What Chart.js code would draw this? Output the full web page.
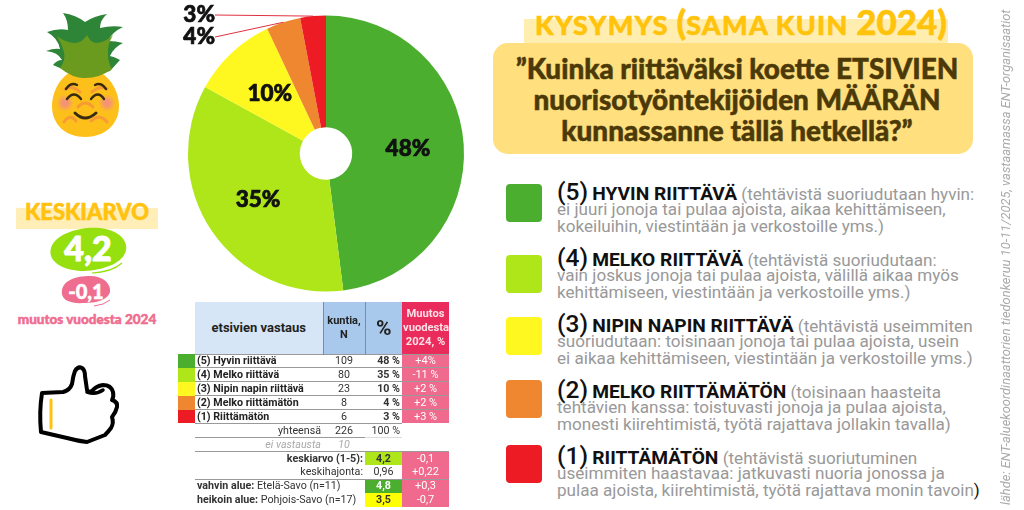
<!DOCTYPE html>
<html lang="fi">
<head>
<meta charset="UTF-8">
<title>Etsivien määrän riittävyys</title>
<style>
  *, *::before, *::after { box-sizing: border-box; margin: 0; padding: 0; }
  html, body { width: 1024px; height: 510px; overflow: hidden; background: #fff; font-family: Roboto, sans-serif; }
  .abs { position: absolute; }
  #pieWrap { position: absolute; left: 170px; top: 0; width: 312px; height: 307px; }
  canvas { display: block; }
  .disp { font-family: Lato, sans-serif; font-weight: 900; -webkit-text-stroke: .5px currentColor; }
  #kband { left: 16px; top: 208px; width: 142px; height: 21px; background: #ffeeb8; }
  #ktitle { left: 0; width: 174px; top: 198px; text-align: center; font-size: 22px; color: #ffc20e; }
  #kval { left: 50px; width: 76px; top: 226px; text-align: center; font-size: 34px; line-height: 44px; color: #fff; -webkit-text-stroke: 1px #fff; }
  #kdiff { left: 61px; width: 50px; top: 277px; text-align: center; font-size: 20px; line-height: 28px; color: #fff; }
  #kcap { left: 0; width: 174px; top: 311px; text-align: center; font-size: 13.5px; color: #ef6d8f; }
  #qband { left: 524px; top: 19px; width: 424px; height: 26px; background: #ffeeb0; }
  #qtitle { left: 499px; width: 484px; top: 0; text-align: center; font-size: 27px; line-height: 42px; color: #ffc30b; white-space: nowrap; letter-spacing: 1.2px; }
  #qtitle span { font-size: 35px; letter-spacing: 0; }
  #qbox { left: 493px; top: 43px; width: 480px; height: 111px; background: #ffdf7e; border-radius: 15px; }
  #qtext { left: 497px; width: 480px; top: 53px; text-align: center; font-size: 27.9px; line-height: 31px; color: #4b3a08; white-space: nowrap; }
  .sw { position: absolute; left: 506px; width: 36px; height: 38px; border-radius: 4px; }
  .lg { position: absolute; left: 557px; white-space: nowrap; color: #999; font-size: 17.1px; }
  .lg div { line-height: 16.6px; height: 16.6px; }
  .lg .l1 { height: 19px; line-height: 19px; }
  .lg b { font-weight: 700; color: #111; font-size: 19.2px; }
  .lg .n { font-weight: 500; color: #111; font-size: 24.5px; }
  .lg i { font-style: normal; color: #111; }
  #src { left: 999px; top: 5px; height: 500px; width: 14px; writing-mode: vertical-rl; transform: rotate(180deg); font-size: 12.9px; font-style: italic; color: #aaa; white-space: nowrap; line-height: 14px; }
  table { position: absolute; left: 178px; top: 302px; border-collapse: collapse; table-layout: fixed; width: 271px; font-size: 10.7px; color: #333; }
  td, th { height: 13.9px; line-height: 12px; padding: .5px 1px 0; white-space: nowrap; overflow: hidden; }
  th { height: 52px; font-weight: 700; white-space: normal; padding: 0 1px; }
  .h1 { background: #d6e6f6; font-size: 13px; color: #222; }
  .h2 { background: #a8c9eb; font-size: 11px; border-left: 1px solid #6f8fb0; color: #222; line-height: 14px; }
  .h3 { background: #a8c9eb; font-size: 21px; border-left: 1px solid #6f8fb0; color: #222; }
  .h4 { background: #e92c5c; color: #ffe0e7; font-size: 11.2px; line-height: 14px; }
  .ln td { border-top: 1px solid #999; }
  .ln td:first-child { border-top: 0; }
  .lb { font-weight: 700; color: #222; padding-left: 2px; }
  .c { text-align: center; }
  .r { text-align: right; padding-right: 2px; }
  .p { background: #ef6a8c; color: #fff; text-align: center; font-size: 11px; }
  .g { color: #aaa; font-style: italic; }
</style>
</head>
<body>

<!-- ananas -->
<svg class="abs" style="left:0;top:0" width="170" height="160">
  <defs><filter id="bl"><feGaussianBlur stdDeviation="2"/></filter></defs>
  <path d="M85 68 C105 68 119 88 119 106 C119 125 104 137 85 137 C66 137 52 125 52 106 C52 88 65 68 85 68 z" fill="#fdc01a"/>
  <path d="M63 13 Q76 15 85 22 Q94 16 107 14 Q100 20 100 28 Q112 25 123 27 Q112 32 108 41 Q116 41 123 43 Q114 47 110 56 Q115 57 120 60 L110 71 L83 78 L53 65 Q57 60 62 60 Q58 52 46 51 Q54 48 60 49 Q58 38 47 32 Q58 28 68 30 Q68 20 63 13 z" fill="#2e8437"/>
  <path d="M87 35 Q90 42 96 43 Q106 42 113 35 Q107 45 108 55 Q108 62 112 69 Q100 78 85 78 Q72 78 60 68 Q66 60 64 52 Q62 44 57 36 Q66 43 75 43 Q83 42 87 35 z" fill="#6b9b1e"/>
  <circle cx="65" cy="103" r="6" fill="#f5907c" filter="url(#bl)"/>
  <circle cx="107" cy="103" r="6" fill="#f5907c" filter="url(#bl)"/>
  <g fill="none" stroke="#f79a35" stroke-width="3" stroke-linecap="round">
    <path d="M65 89 Q72 85 80 92"/><path d="M92 92 Q100 85 107 89"/>
    <path d="M78 107 Q85 99 93 107"/>
    <path d="M64 122 Q70 113 76 121"/><path d="M91 121 Q100 113 107 122"/>
  </g>
  <g fill="none" stroke="#3a2a10" stroke-width="2.4" stroke-linecap="round">
    <path d="M66 89 Q71 82 77 85"/><path d="M95 85 Q101 82 106 89"/>
    <path d="M67 99 Q74 90 81 99"/><path d="M91 99 Q98 90 104 99"/>
    <path d="M75 113 Q85 123 96 113" stroke-width="3"/>
  </g>
</svg>

<!-- keskiarvo -->
<div class="abs" id="kband"></div>
<div class="abs disp" id="ktitle">KESKIARVO</div>
<svg class="abs" style="left:0;top:220px" width="170" height="100">
  <path d="M51 28 C55 14 80 6 100 8 C118 10 128 20 126 30 C124 42 106 50 84 51 C64 51 47 42 51 28 z" fill="#97e00f"/>
  <path d="M92 53 Q112 52 122 43" fill="none" stroke="#97e00f" stroke-width="1.2"/>
  <path d="M62 70 C64 60 76 56 90 56 C104 56 111 64 110 72 C108 80 96 83 84 83 C70 84 60 80 62 70 z" fill="#ef6d8f"/>
  <path d="M94 86 Q104 85 110 80" fill="none" stroke="#ef6d8f" stroke-width="1"/>
</svg>
<div class="abs disp" id="kval">4,2</div>
<div class="abs disp" id="kdiff">-0,1</div>
<div class="abs disp" id="kcap">muutos vuodesta 2024</div>

<!-- peukku -->
<svg class="abs" style="left:0;top:350px" width="170" height="110" viewBox="0 350 170 110">
  <path d="M42 393 L63 392 Q70 390 72 384 Q73 376 75 371 Q78 366 82 368 Q85 370 85 376 L87 390 Q89 393 92 391 Q96 386 103 385 Q111 385 113 392 Q114 397 112 400 Q118 402 117 407 Q116 412 112 417 Q114 423 111 428 Q108 432 105 435 L87 442 Q78 441 67 438 L41 432 Q39 412 42 393 z" fill="#fff" stroke="#000" stroke-width="4" stroke-linejoin="round"/>
  <path d="M87 392 Q96 395 103 390" fill="none" stroke="#000" stroke-width="3.5" stroke-linecap="round"/>
  <line x1="51" y1="400" x2="51" y2="428" stroke="#ffc20e" stroke-width="3" stroke-linecap="round"/>
</svg>

<div id="pieWrap"><canvas id="cPie" width="312" height="307"></canvas></div>

<table id="tbl">
  <colgroup><col style="width:17px"><col style="width:128px"><col style="width:42px"><col style="width:37px"><col style="width:47px"></colgroup>
  <thead><tr>
    <td style="height:52px"></td>
    <th class="h1">etsivien vastaus</th>
    <th class="h2">kuntia,<br>N</th>
    <th class="h3">%</th>
    <th class="h4">Muutos vuodesta 2024, %</th>
  </tr></thead>
  <tbody id="tb"></tbody>
</table>

<!-- otsikko -->
<div class="abs" id="qband"></div>
<div class="abs disp" id="qtitle">KYSYMYS <span>(</span>SAMA KUIN <span>2024)</span></div>
<div class="abs" id="qbox"></div>
<div class="abs disp" id="qtext">”Kuinka riittäväksi koette ETSIVIEN<br>nuorisotyöntekijöiden MÄÄRÄN<br>kunnassanne tällä hetkellä?”</div>

<div id="legend"></div>

<div class="abs" id="src">lähde: ENT-aluekoordinaattorien tiedonkeruu 10-11/2025, vastaamassa ENT-organisaatiot</div>

<script src="https://cdn.jsdelivr.net/npm/chart.js@4"></script>
<script>
const categories = ['(5) Hyvin riittävä','(4) Melko riittävä','(3) Nipin napin riittävä','(2) Melko riittämätön','(1) Riittämätön'];
const colors = ['#4bae2e','#aee61a','#fff720','#ef8730','#ed1c24'];
const percents = [48,35,10,4,3];
const counts = [109,80,23,8,6];
const changes = ['+4%','-11 %','+2 %','+2 %','+3 %'];

const legendNums = ['(5)','(4)','(3)','(2)','(1)'];
const legendHeads = ['HYVIN RIITTÄVÄ','MELKO RIITTÄVÄ','NIPIN NAPIN RIITTÄVÄ','MELKO RIITTÄMÄTÖN','RIITTÄMÄTÖN'];
const legendLines = [
  ['(tehtävistä suoriudutaan hyvin:','ei juuri jonoja tai pulaa ajoista, aikaa kehittämiseen,','kokeiluihin, viestintään ja verkostoille yms.)'],
  ['(tehtävistä suoriudutaan:','vain joskus jonoja tai pulaa ajoista, välillä aikaa myös','kehittämiseen, viestintään ja verkostoille yms.)'],
  ['(tehtävistä useimmiten','suoriudutaan: toisinaan jonoja tai pulaa ajoista, usein','ei aikaa kehittämiseen, viestintään ja verkostoille yms.)'],
  ['(toisinaan haasteita','tehtävien kanssa: toistuvasti jonoja ja pulaa ajoista,','monesti kiirehtimistä, työtä rajattava jollakin tavalla)'],
  ['(tehtävistä suoriutuminen','useimmiten haastavaa: jatkuvasti nuoria jonossa ja','pulaa ajoista, kiirehtimistä, työtä rajattava monin tavoin<i>)</i>'],
];
const swatchTops = [184,255,317,380,445];
const legendTops = [182,248,314,380,446];

// taulukko
const tb = document.getElementById('tb');
categories.forEach((c,i)=>{
  tb.insertAdjacentHTML('beforeend',`<tr class="ln"><td style="background:${colors[i]}"></td><td class="lb">${c}</td><td class="c">${counts[i]}</td><td class="r"><b>${percents[i]} %</b></td><td class="p">${changes[i]}</td></tr>`);
});
tb.insertAdjacentHTML('beforeend',`
  <tr class="ln"><td></td><td class="r">yhteensä</td><td class="c">226</td><td class="r">100 %</td><td style="border-top:0"></td></tr>
  <tr class="ln"><td></td><td class="r g">ei vastausta</td><td class="c g">10</td><td style="border-top:1px solid #ddd"></td><td style="border-top:0"></td></tr>
  <tr class="ln"><td></td><td colspan="2" class="r"><b>keskiarvo (1-5):</b></td><td class="c" style="background:#aee61a"><b>4,2</b></td><td class="p">-0,1</td></tr>
  <tr><td></td><td colspan="2" class="r">keskihajonta:</td><td class="c">0,96</td><td class="p">+0,22</td></tr>
  <tr class="ln"><td></td><td colspan="2" style="padding-left:2px"><b>vahvin alue:</b> Etelä-Savo (n=11)</td><td class="c" style="background:#4bae2e;color:#fff"><b>4,8</b></td><td class="p">+0,3</td></tr>
  <tr><td></td><td colspan="2" style="padding-left:2px"><b>heikoin alue:</b> Pohjois-Savo (n=17)</td><td class="c" style="background:#ffff00"><b>3,5</b></td><td class="p">-0,7</td></tr>`);

// selite
const lg = document.getElementById('legend');
legendHeads.forEach((h,i)=>{
  lg.insertAdjacentHTML('beforeend',`<div class="sw" style="top:${swatchTops[i]}px;background:${colors[i]}"></div>
  <div class="lg" style="top:${legendTops[i]}px"><div class="l1"><span class="n">${legendNums[i]}</span> <b>${h}</b> ${legendLines[i][0]}</div><div>${legendLines[i][1]}</div><div>${legendLines[i][2]}</div></div>`);
});

// prosentit piirakan päälle, pienimmät viivalla ulos
const pieLabels = {
  id:'pieLabels',
  afterDatasetsDraw(chart){
    const ctx = chart.ctx;
    const arcs = chart.getDatasetMeta(0).data;
    ctx.save();
    ctx.font = '900 22.5px Lato, sans-serif';
    ctx.fillStyle = '#111';
    ctx.textBaseline = 'middle';
    arcs.forEach((a,i)=>{
      const txt = percents[i]+'%';
      ctx.strokeStyle = '#111';
      ctx.lineWidth = .7;
      if (percents[i] >= 10) {
        const p = a.tooltipPosition();
        ctx.textAlign = 'center';
        ctx.fillText(txt,p.x,p.y);
        ctx.strokeText(txt,p.x,p.y);
      } else {
        const mid = (a.startAngle+a.endAngle)/2;
        const ex = a.x+Math.cos(mid)*a.outerRadius;
        const ey = a.y+Math.sin(mid)*a.outerRadius;
        const ly = i===4 ? 15 : 37;
        ctx.textAlign = 'right';
        ctx.fillText(txt,45,ly);
        ctx.strokeText(txt,45,ly);
        ctx.strokeStyle = '#e0303f';
        ctx.lineWidth = 1;
        ctx.beginPath(); ctx.moveTo(45,ly); ctx.lineTo(ex,ey); ctx.stroke();
      }
    });
    ctx.restore();
  }
};

new Chart(document.getElementById('cPie'),{
  type:'doughnut',
  data:{labels:categories,datasets:[{data:percents,backgroundColor:colors,borderWidth:0}]},
  options:{
    responsive:false,
    animation:false,
    cutout:'19%',
    layout:{padding:{left:18,right:18,top:15.5,bottom:15.5}},
    plugins:{legend:{display:false},tooltip:{enabled:false}}
  },
  plugins:[pieLabels]
});
</script>
</body>
</html>
